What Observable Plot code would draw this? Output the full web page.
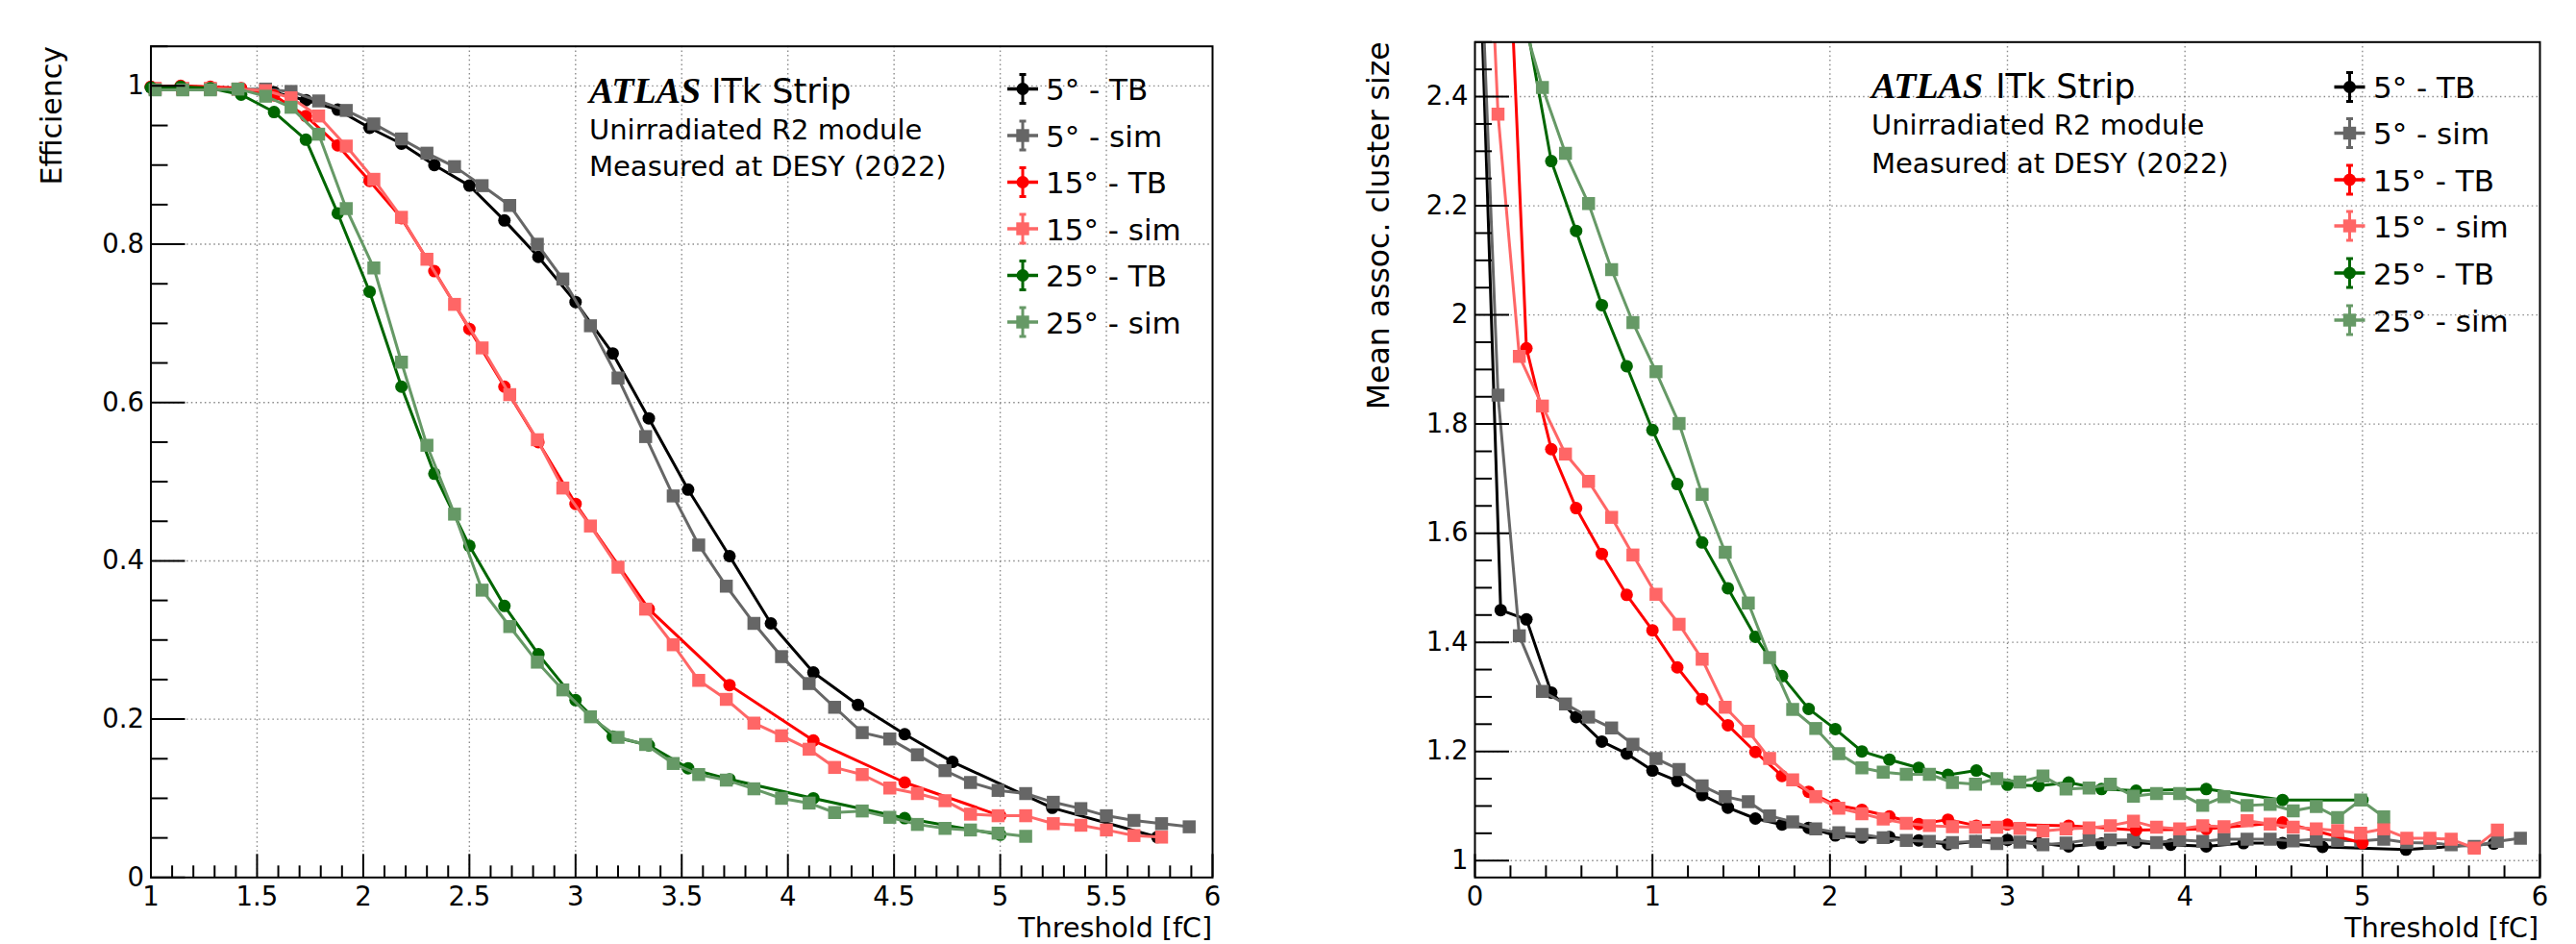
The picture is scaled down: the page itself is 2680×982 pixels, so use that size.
<!DOCTYPE html>
<html>
<head>
<meta charset="utf-8">
<script src="https://cdn.jsdelivr.net/npm/d3@7"></script>
<script src="https://cdn.jsdelivr.net/npm/@observablehq/plot@0.6"></script>
<style>
  html, body { margin: 0; padding: 0; background: #ffffff; }
  #wrap { display: flex; width: 2680px; height: 982px; overflow: hidden; }
  #wrap svg { display: block; flex: none; }
</style>
</head>
<body>
<div id="wrap"></div>
<script>
// ---------------- DATA ----------------
// Thresholds [fC] of the test-beam (TB) points and of the simulated (sim) points
const tbX = [0.00, 0.145, 0.29, 0.43, 0.57, 0.715, 0.855, 1.00, 1.14, 1.28, 1.425, 1.58, 1.73, 1.88, 2.03, 2.18, 2.335, 2.50, 2.665, 2.825, 3.00, 3.175, 3.345, 3.53, 3.725, 3.92, 4.12, 4.33, 4.55, 4.775, 5.00, 5.245, 5.74];
const simX = [0.00, 0.13, 0.25, 0.38, 0.51, 0.64, 0.77, 0.89, 1.02, 1.15, 1.28, 1.41, 1.54, 1.66, 1.79, 1.92, 2.05, 2.18, 2.30, 2.43, 2.56, 2.69, 2.82, 2.94, 3.07, 3.20, 3.33, 3.46, 3.58, 3.71, 3.84, 3.97, 4.10, 4.22, 4.35, 4.48, 4.61, 4.74, 4.86, 4.99, 5.12, 5.25, 5.38, 5.50, 5.63, 5.76, 5.89];

// Left panel: efficiency
const eff5TB = [null, null, null, null, null, null, null, 0.998, 0.998, 0.997, 0.996, 0.992, 0.982, 0.970, 0.947, 0.927, 0.900, 0.874, 0.830, 0.784, 0.727, 0.662, 0.580, 0.490, 0.406, 0.321, 0.259, 0.218, 0.181, 0.146, null, 0.088, 0.051];
const eff15TB = [null, null, null, null, null, null, null, 0.999, 1.000, 0.999, 0.997, 0.988, 0.962, 0.925, 0.880, 0.833, 0.766, 0.693, 0.620, 0.550, 0.472, null, 0.339, null, 0.243, null, 0.173, null, 0.120, null, 0.078, null, null];
const eff25TB = [null, null, null, null, null, null, null, 0.998, 0.999, 0.997, 0.989, 0.967, 0.932, 0.839, 0.740, 0.620, 0.510, 0.419, 0.343, 0.282, 0.224, 0.178, 0.167, 0.138, 0.124, null, 0.100, null, 0.075, null, 0.054, null, null];
const eff5Sim = [null, null, null, null, null, null, null, null, 0.996, 0.996, 0.996, 0.996, 0.996, 0.993, 0.981, 0.969, 0.952, 0.933, 0.915, 0.898, 0.874, 0.849, 0.800, 0.756, 0.697, 0.631, 0.557, 0.482, 0.420, 0.368, 0.321, 0.279, 0.245, 0.215, 0.183, 0.175, 0.155, 0.135, 0.120, 0.110, 0.106, 0.095, 0.087, 0.078, 0.072, 0.068, 0.064];
const eff15Sim = [null, null, null, null, null, null, null, null, 0.997, 0.997, 0.997, 0.996, 0.994, 0.985, 0.962, 0.924, 0.882, 0.834, 0.781, 0.724, 0.669, 0.610, 0.553, 0.492, 0.444, 0.392, 0.339, 0.294, 0.249, 0.225, 0.195, 0.179, 0.162, 0.139, 0.130, 0.113, 0.106, 0.097, 0.080, 0.078, 0.078, 0.068, 0.066, 0.060, 0.053, 0.051, null];
const eff25Sim = [null, null, null, null, null, null, null, null, 0.995, 0.995, 0.995, 0.996, 0.987, 0.973, 0.939, 0.845, 0.770, 0.651, 0.546, 0.459, 0.363, 0.317, 0.272, 0.237, 0.203, 0.177, 0.168, 0.144, 0.130, 0.123, 0.112, 0.100, 0.094, 0.082, 0.084, 0.076, 0.067, 0.062, 0.060, 0.056, 0.052, null, null, null, null, null, null];

// Right panel: mean associated cluster size
const cls5TB = [2.94, 1.459, 1.442, 1.308, 1.263, 1.218, 1.196, 1.165, 1.146, 1.120, 1.097, 1.077, 1.066, 1.060, 1.046, 1.042, 1.043, 1.037, 1.030, 1.035, 1.038, 1.032, 1.026, 1.031, 1.033, 1.029, 1.026, 1.032, 1.032, 1.025, null, 1.020, 1.031];
const cls15TB = [null, 3.05, 1.939, 1.754, 1.646, 1.562, 1.487, 1.422, 1.354, 1.296, 1.248, 1.199, 1.155, 1.126, 1.102, 1.093, 1.081, 1.067, 1.075, 1.064, 1.066, null, 1.064, null, 1.056, null, 1.058, null, 1.070, null, 1.032, null, null];
const cls25TB = [null, null, 2.534, 2.282, 2.154, 2.018, 1.906, 1.789, 1.690, 1.583, 1.499, 1.410, 1.338, 1.278, 1.241, 1.200, 1.185, 1.170, 1.157, 1.165, 1.139, 1.137, 1.143, 1.131, 1.128, null, 1.131, null, 1.111, null, 1.111, null, null];
const cls5Sim = [2.94, 1.853, 1.412, 1.310, 1.287, 1.263, 1.243, 1.213, 1.187, 1.167, 1.137, 1.117, 1.108, 1.082, 1.071, 1.058, 1.051, 1.048, 1.042, 1.037, 1.035, 1.033, 1.035, 1.031, 1.034, 1.029, 1.032, 1.038, 1.038, 1.038, 1.033, 1.038, 1.035, 1.039, 1.039, 1.039, 1.036, 1.039, 1.037, 1.036, 1.039, 1.033, 1.032, 1.029, 1.026, 1.035, 1.041];
const cls15Sim = [3.31, 2.368, 1.924, 1.833, 1.745, 1.695, 1.629, 1.560, 1.488, 1.433, 1.369, 1.281, 1.237, 1.187, 1.148, 1.117, 1.096, 1.086, 1.076, 1.068, 1.064, 1.062, 1.061, 1.061, 1.059, 1.054, 1.058, 1.060, 1.064, 1.072, 1.061, 1.058, 1.064, 1.062, 1.073, 1.067, 1.061, 1.058, 1.055, 1.050, 1.058, 1.041, 1.041, 1.039, 1.023, 1.056, null];
const cls25Sim = [null, null, 2.563, 2.417, 2.296, 2.204, 2.083, 1.986, 1.896, 1.801, 1.671, 1.565, 1.472, 1.372, 1.277, 1.242, 1.196, 1.170, 1.162, 1.158, 1.158, 1.143, 1.140, 1.150, 1.144, 1.155, 1.131, 1.133, 1.140, 1.118, 1.123, 1.123, 1.101, 1.117, 1.101, 1.103, 1.091, 1.099, 1.079, 1.111, 1.080, null, null, null, null, null, null];

// Legend / series definitions
const legendLabels = ["5° - TB", "5° - sim", "15° - TB", "15° - sim", "25° - TB", "25° - sim"];
const seriesColors = ["#000000", "#666666", "#ff0000", "#ff6666", "#006600", "#669966"];
const seriesIsTB = [true, false, true, false, true, false];

// Axis tick labels
const effXTicks = [1, 1.5, 2, 2.5, 3, 3.5, 4, 4.5, 5, 5.5, 6];
const effYTicks = [0, 0.2, 0.4, 0.6, 0.8, 1];
const clsXTicks = [0, 1, 2, 3, 4, 5, 6];
const clsYTicks = [1, 1.2, 1.4, 1.6, 1.8, 2, 2.2, 2.4];

const headerLines = ["Unirradiated R2 module", "Measured at DESY (2022)"];

// ---------------- DRAWING ----------------
const W = 1340, H = 982;
const TICK_FONT = 27.5;
const near = (a, b) => Math.abs(a - b) < 1e-6;
function minorTicks(lo, hi, step, majors) {
  return d3.range(Math.round((hi - lo) / step) + 1).map(i => +(lo + i * step).toFixed(4))
    .filter(v => !majors.some(m => near(m, v)));
}

function panel(cfg) {
  const {ml, mr, mt, mb, xDomain, yDomain, xMajor, yMajor, xMinor, yMinor, xGrid, yGrid, series, clip} = cfg;
  const fw = W - ml - mr, fh = H - mt - mb;
  const grid = {stroke: "#8a8a8a", strokeWidth: 1.4, strokeDasharray: "1.5,3.2"};
  const marks = [
    Plot.ruleX(xGrid, {x: d => d, ...grid}),
    Plot.ruleY(yGrid, {y: d => d, ...grid})
  ];
  series.forEach((s, k) => {
    const data = s.x.map((x, i) => ({x, y: s.y[i]})).filter(d => d.y != null);
    marks.push(Plot.line(data, {x: "x", y: "y", stroke: seriesColors[k], strokeWidth: 3, clip}));
    marks.push(Plot.dot(data, {
      x: "x", y: "y", fill: seriesColors[k], stroke: "none",
      symbol: seriesIsTB[k] ? "circle" : "square", r: seriesIsTB[k] ? 6.5 : 7.6, clip
    }));
  });
  const tk = {stroke: "black", strokeWidth: 2};
  marks.push(
    Plot.tickY(yMajor, {y: d => d, insetRight: fw - 36, ...tk}),
    Plot.tickY(yMinor, {y: d => d, insetRight: fw - 18, ...tk}),
    Plot.tickX(xMajor, {x: d => d, insetTop: fh - 24, ...tk}),
    Plot.tickX(xMinor, {x: d => d, insetTop: fh - 12, ...tk}),
    Plot.frame({stroke: "black", strokeWidth: 2}),
    Plot.text(xMajor, {x: d => d, frameAnchor: "bottom", lineAnchor: "top", dy: 10, text: d => String(d), fontSize: TICK_FONT, fill: "black"}),
    Plot.text(yMajor, {y: d => d, frameAnchor: "left", textAnchor: "end", dx: -7, text: d => String(d), fontSize: TICK_FONT, fill: "black"})
  );
  return Plot.plot({
    width: W, height: H,
    marginLeft: ml, marginRight: mr, marginTop: mt, marginBottom: mb,
    x: {domain: xDomain, axis: null},
    y: {domain: yDomain, axis: null},
    style: {fontFamily: "DejaVu Sans", background: "white", overflow: "visible"},
    marks
  });
}

function decorate(svg, d) {
  const s = d3.select(svg).append("g").attr("text-anchor", "start").attr("fill", "black");
  // ATLAS label
  const t = s.append("text").attr("x", d.hx).attr("y", d.hy).attr("text-anchor", "start");
  t.append("tspan").attr("font-family", "Liberation Serif").attr("font-weight", "bold")
    .attr("font-style", "italic").attr("font-size", 38).text("ATLAS");
  t.append("tspan").attr("dx", d.hdx).attr("font-family", "DejaVu Sans").attr("font-size", 35).text("ITk Strip");
  headerLines.forEach((line, i) => {
    s.append("text").attr("x", d.hx).attr("y", d.hy2[i]).attr("text-anchor", "start")
      .attr("font-family", "DejaVu Sans").attr("font-size", 29).text(line);
  });
  // Legend
  legendLabels.forEach((lab, i) => {
    const cy = d.ly[i], cx = d.lx, c = seriesColors[i];
    const g = s.append("g").attr("transform", `translate(${cx},${cy})`);
    g.append("line").attr("x1", -16).attr("x2", 16).attr("y1", 0).attr("y2", 0).attr("stroke", c).attr("stroke-width", 3.5);
    g.append("line").attr("x1", 0).attr("x2", 0).attr("y1", -15).attr("y2", 15).attr("stroke", c).attr("stroke-width", 3);
    g.append("line").attr("x1", -3.5).attr("x2", 3.5).attr("y1", -15).attr("y2", -15).attr("stroke", c).attr("stroke-width", 3);
    g.append("line").attr("x1", -3.5).attr("x2", 3.5).attr("y1", 15).attr("y2", 15).attr("stroke", c).attr("stroke-width", 3);
    if (seriesIsTB[i]) g.append("circle").attr("r", 6.5).attr("fill", c);
    else g.append("rect").attr("x", -6.7).attr("y", -6.7).attr("width", 13.4).attr("height", 13.4).attr("fill", c);
    s.append("text").attr("x", d.tx).attr("y", cy + 11.5).attr("text-anchor", "start")
      .attr("font-family", "DejaVu Sans").attr("font-size", 31).text(lab);
  });
  // Axis titles
  s.append("text").attr("transform", `translate(${d.yTitleX},${d.yTitleY}) rotate(-90)`)
    .attr("text-anchor", "end").attr("font-family", "DejaVu Sans").attr("font-size", d.yTitleSize)
    .text(d.yTitle);
  s.append("text").attr("x", d.xTitleX).attr("y", 975).attr("text-anchor", "end")
    .attr("font-family", "DejaVu Sans").attr("font-size", 28.5).text("Threshold [fC]");
}

const wrap = document.getElementById("wrap");

// Left: efficiency
const left = panel({
  ml: 156.5, mr: 79, mt: 47.7, mb: 69.7,
  xDomain: [1, 6], yDomain: [0, 1.05],
  xMajor: effXTicks, yMajor: effYTicks,
  xMinor: minorTicks(1, 6, 0.1, effXTicks),
  yMinor: minorTicks(0, 1.05, 0.05, effYTicks),
  xGrid: effXTicks.slice(1, -1), yGrid: effYTicks.slice(1),
  clip: false,
  series: [
    {x: tbX, y: eff5TB}, {x: simX, y: eff5Sim},
    {x: tbX, y: eff15TB}, {x: simX, y: eff15Sim},
    {x: tbX, y: eff25TB}, {x: simX, y: eff25Sim}
  ]
});
decorate(left, {
  hx: 613, hy: 107, hdx: 11, hy2: [145, 183],
  lx: 1064, tx: 1088, ly: [92.5, 141, 189.5, 238, 286.5, 335],
  yTitle: "Efficiency", yTitleX: 64, yTitleY: 48, yTitleSize: 30,
  xTitleX: 1261
});
wrap.appendChild(left);

// Right: cluster size
const right = panel({
  ml: 194, mr: 38, mt: 43.3, mb: 69.7,
  xDomain: [0, 6], yDomain: [0.969, 2.5],
  xMajor: clsXTicks, yMajor: clsYTicks,
  xMinor: minorTicks(0, 6, 0.2, clsXTicks),
  yMinor: minorTicks(1, 2.5, 0.05, clsYTicks),
  xGrid: clsXTicks.slice(1, -1), yGrid: clsYTicks,
  clip: true,
  series: [
    {x: tbX, y: cls5TB}, {x: simX, y: cls5Sim},
    {x: tbX, y: cls15TB}, {x: simX, y: cls15Sim},
    {x: tbX, y: cls25TB}, {x: simX, y: cls25Sim}
  ]
});
decorate(right, {
  hx: 607, hy: 102, hdx: 13, hy2: [140, 180],
  lx: 1104.5, tx: 1129, ly: [90.5, 138.5, 187, 235, 284, 333],
  yTitle: "Mean assoc. cluster size", yTitleX: 105, yTitleY: 43.3, yTitleSize: 31.5,
  xTitleX: 1301
});
wrap.appendChild(right);
</script>
</body>
</html>
